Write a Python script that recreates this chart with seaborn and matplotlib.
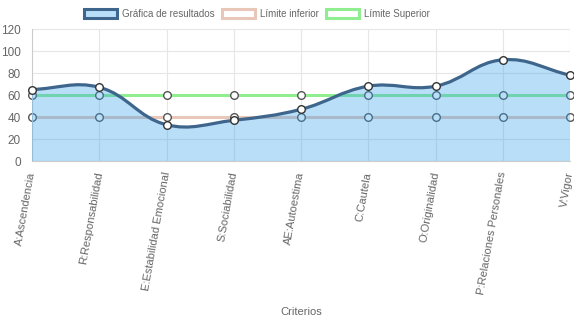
import matplotlib
matplotlib.use("Agg")
import matplotlib.pyplot as plt
import seaborn as sns
import numpy as np
import pandas as pd
from matplotlib.path import Path
from matplotlib.patches import PathPatch, Patch

categories = ["A:Ascendencia", "R:Responsabilidad", "E:Estabilidad Emocional",
              "S:Sociabilidad", "AE:Autoestima", "C:Cautela", "O:Originalidad",
              "P:Relaciones Personales", "V:Vigor"]
resultados = [65, 67, 33, 37, 47, 68, 68, 92, 78]
limite_inferior = [40, 40, 40, 40, 40, 40, 40, 40, 40]
limite_superior = [60, 60, 60, 60, 60, 60, 60, 60, 60]
y_ticks = [0, 20, 40, 60, 80, 100, 120]

sns.set_theme(style="whitegrid")
plt.rcParams['font.family'] = ['Liberation Sans', 'DejaVu Sans']

fig = plt.figure(figsize=(5.74, 3.23), dpi=100)
ax = fig.add_axes([32/574, 1-161/323, (570-32)/574, (161-29)/323])

x = np.arange(len(categories))
df = pd.DataFrame({"x": x, "res": resultados, "inf": limite_inferior, "sup": limite_superior})

main_color = "#3e668c"
fill_rgba = (54/255, 162/255, 235/255, 0.35)
inf_color = "#e8c6b8"
sup_color = "#90ee90"

ax.set_xlim(0, len(categories) - 1)
ax.set_ylim(0, 120)

# limit lines
for col, c in (("inf", inf_color), ("sup", sup_color)):
    sns.lineplot(data=df, x="x", y=col, ax=ax, color=c, linewidth=2.2, zorder=2,
                 marker="o", markersize=5.5, markerfacecolor="white",
                 markeredgecolor="#555555", markeredgewidth=1.0, clip_on=False)

# spline (Chart.js style, tension 0.4) in display space
fig.canvas.draw()
T = ax.transData
pts = T.transform(np.column_stack([x, resultados]))
n = len(pts)
tension = 0.4
cp_prev = pts.copy()
cp_next = pts.copy()
for i in range(n):
    prev = pts[i-1] if i > 0 else pts[i]
    cur = pts[i]
    nxt = pts[i+1] if i < n-1 else pts[i]
    d01 = np.hypot(*(cur-prev))
    d12 = np.hypot(*(nxt-cur))
    tot = d01 + d12
    s01 = d01/tot if tot else 0
    s12 = d12/tot if tot else 0
    cp_prev[i] = cur - tension*s01*(nxt-prev)
    cp_next[i] = cur + tension*s12*(nxt-prev)
inv = T.inverted()
P = inv.transform(pts)
CPp = inv.transform(cp_prev)
CPn = inv.transform(cp_next)
verts = [tuple(P[0])]
codes = [Path.MOVETO]
for i in range(n-1):
    verts += [tuple(CPn[i]), tuple(CPp[i+1]), tuple(P[i+1])]
    codes += [Path.CURVE4]*3
curve = Path(verts, codes)
fill_path = Path(verts + [(x[-1], 0), (x[0], 0), (x[0], P[0][1])],
                 codes + [Path.LINETO, Path.LINETO, Path.LINETO])
ax.add_patch(PathPatch(fill_path, facecolor=fill_rgba, edgecolor="none", zorder=3))
ax.add_patch(PathPatch(curve, facecolor="none", edgecolor=main_color, linewidth=2.3, zorder=4))
sns.scatterplot(data=df, x="x", y="res", ax=ax, s=30, color="white",
                edgecolor="#333333", linewidth=1.0, zorder=5, clip_on=False)

ax.set_xticks(x)
ax.set_xticklabels(categories, rotation=80, ha="right", va="center",
                   rotation_mode="anchor", fontsize=8, color="#666666")
ax.set_yticks(y_ticks)
ax.set_yticklabels([str(v) for v in y_ticks], fontsize=8.5, color="#666666")
ax.tick_params(axis="x", length=6, color="#e0e0e0", pad=2)
ax.tick_params(axis="y", length=6, color="#e0e0e0", pad=2)
ax.grid(True, color="#e6e6e6", linewidth=0.8)
for s in ("top", "right"):
    ax.spines[s].set_visible(False)
for s in ("left", "bottom"):
    ax.spines[s].set_color("#cccccc")
    ax.spines[s].set_linewidth(0.8)
ax.set_xlabel("")
ax.set_ylabel("")
fig.text((32+570)/2/574, 1-312/323, "Criterios", ha="center", va="center",
         fontsize=8, color="#666666")

handles = [Patch(facecolor=fill_rgba, edgecolor=main_color, linewidth=2.2),
           Patch(facecolor="white", edgecolor=inf_color, linewidth=2.2),
           Patch(facecolor="white", edgecolor=sup_color, linewidth=2.2)]
labels = ["Gráfica de resultados", "Límite inferior", "Límite Superior"]
fig.legend(handles, labels, loc="center", bbox_to_anchor=(257/574, 1-14/323), ncol=3,
           frameon=False, fontsize=7, handlelength=3.4, handleheight=1.1,
           columnspacing=0.8, handletextpad=0.45, labelcolor="#666666",
           borderpad=0.2)

fig.savefig("out.png", dpi=100)
